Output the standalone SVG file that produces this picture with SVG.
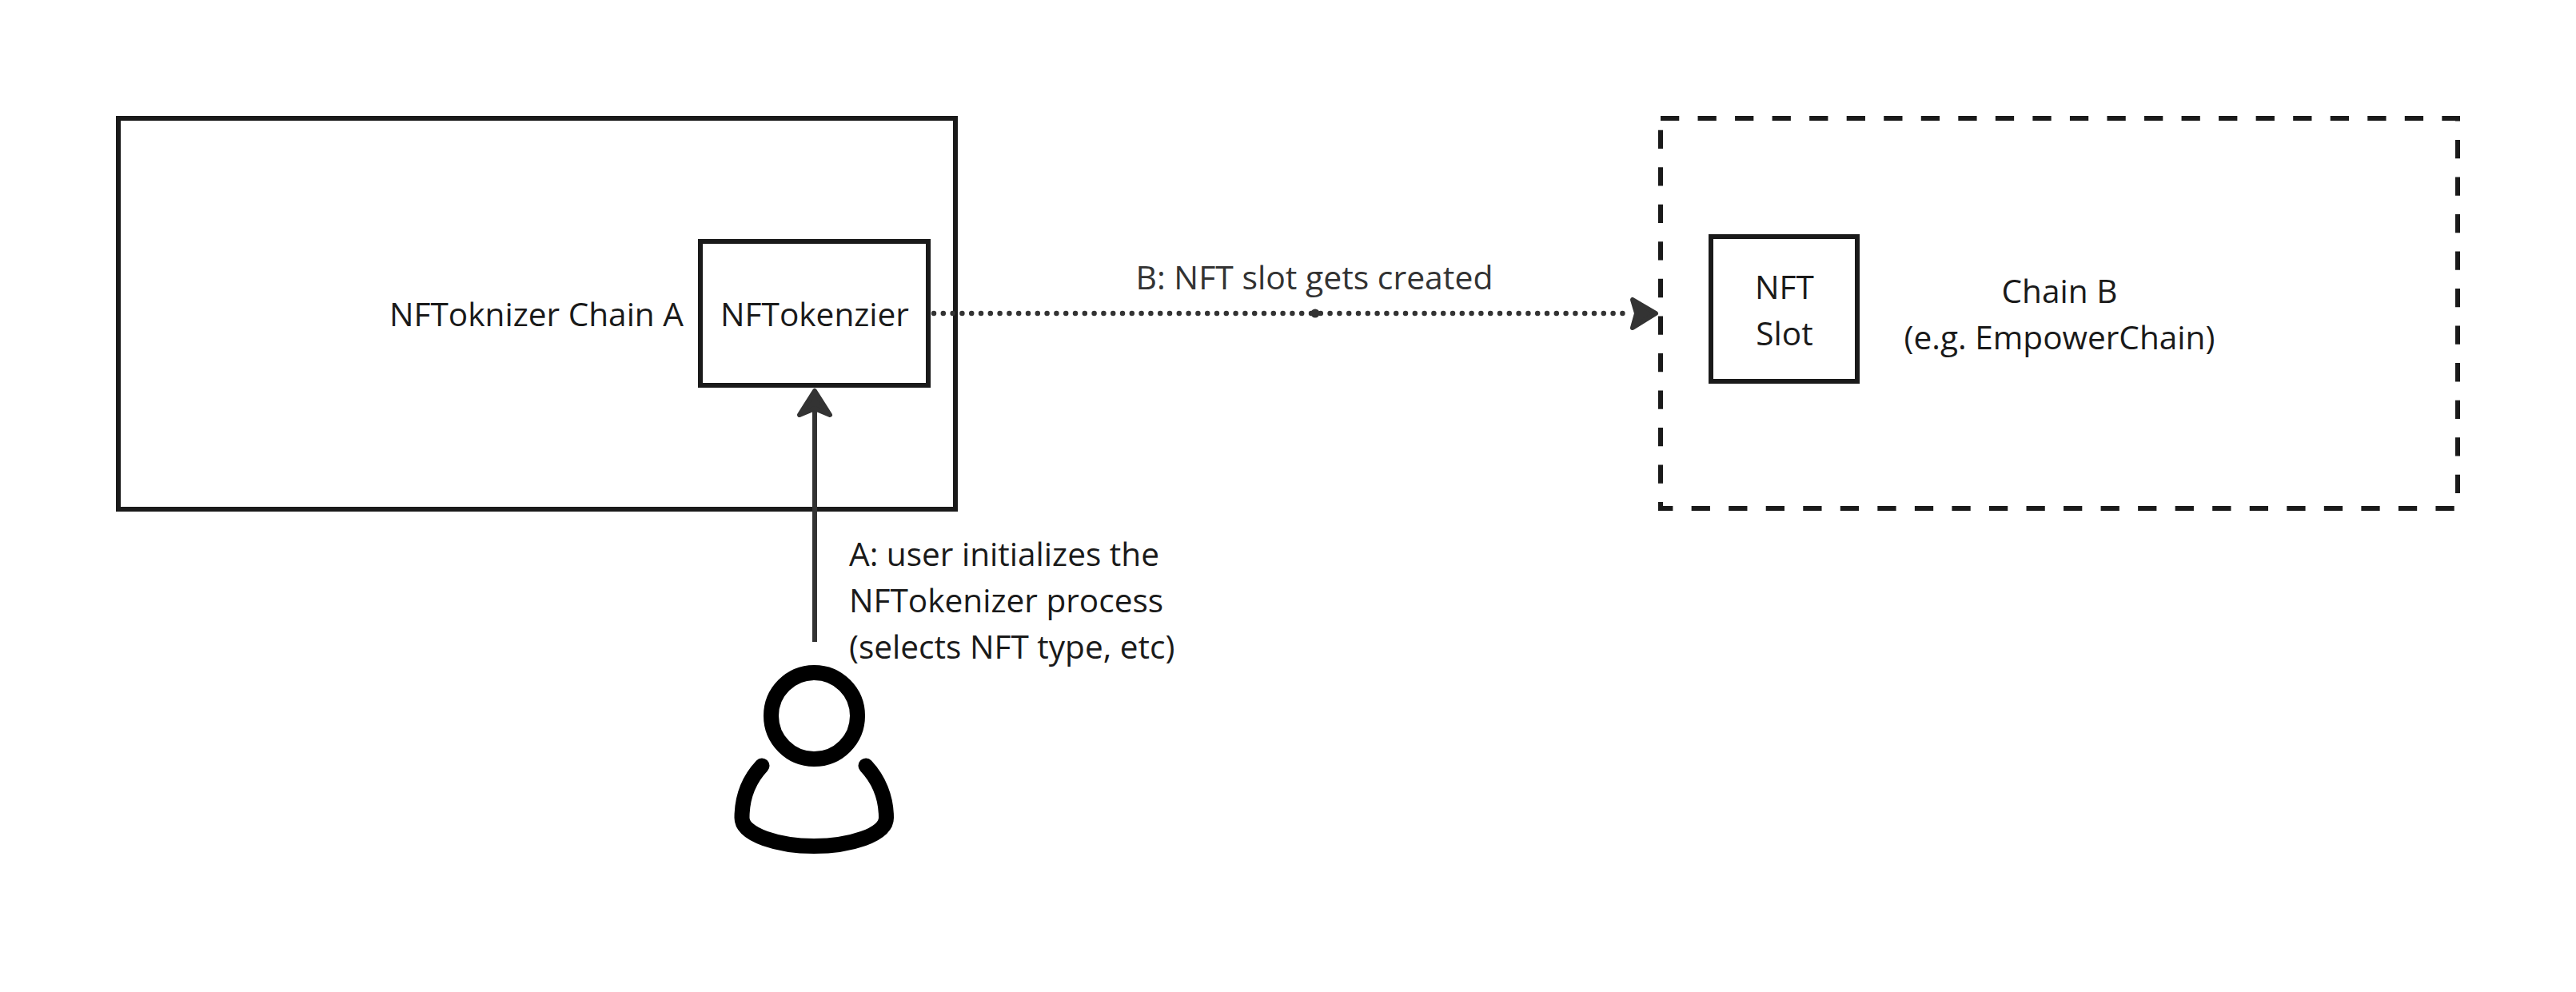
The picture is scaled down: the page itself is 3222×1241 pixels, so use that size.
<svg xmlns="http://www.w3.org/2000/svg" width="3222" height="1241" viewBox="0 0 3222 1241">
<defs><style>
.box{fill:none;stroke:#1a1a1a;stroke-width:6}
.t{font-family:"Open Sans","Noto Sans",sans-serif;font-size:40.6px;fill:#1a1a1a}
.m{text-anchor:middle}
.c{fill:none;stroke:#333;stroke-width:6}
.h{fill:#333;stroke:#333;stroke-width:6;stroke-linejoin:round}
.u{fill:none;stroke:#000;stroke-width:19;stroke-linecap:round}
</style></defs>
<rect width="3222" height="1241" fill="#fff"/>
<g id="chain-a">
<rect class="box" x="148" y="148" width="1047" height="489"/>
<text class="t" x="487" y="408">NFToknizer Chain A</text>
</g>
<g id="nftokenizer">
<rect class="box" x="876" y="302" width="285" height="180"/>
<text class="t m" x="1019" y="408">NFTokenzier</text>
</g>
<g id="chain-b">
<path class="box" style="stroke-dasharray:23.27 23.27" d="M2077 148H3074V636H2077Z"/>
<text class="t m" x="2576" y="379">Chain B</text>
<text class="t m" x="2576" y="437">(e.g. EmpowerChain)</text>
</g>
<g id="nft-slot">
<rect class="box" x="2140" y="296" width="183" height="181"/>
<text class="t m" x="2232" y="374">NFT</text>
<text class="t m" x="2232" y="432">Slot</text>
</g>
<g id="user">
<circle cx="1018.5" cy="895.5" r="54" fill="none" stroke="#000" stroke-width="19"/>
<path class="u" d="M953 958C937 975 928 998 928 1023C928 1045 975 1058.5 1018 1058.5C1062 1058.5 1108.5 1045 1108.5 1023C1108.5 998 1099 975 1083 958"/>
</g>
<g id="connectors">
<path class="c" d="M1019 803V515"/>
<path class="h" d="M1019 489L1038 519L1019 511L1000 519Z"/>
<path class="c" style="stroke-dasharray:0 11.8;stroke-linecap:round;stroke-width:6.5" d="M1168 392H2040"/>
<circle cx="1645" cy="392" r="5.5" fill="#333"/>
<path class="h" d="M2071 392L2042 375L2047 392L2042 410Z"/>
<text class="t m" style="fill:#333;font-size:40.9px" x="1644" y="362">B: NFT slot gets created</text>
<text class="t" x="1062" y="708">A: user initializes the</text>
<text class="t" x="1062" y="766">NFTokenizer process</text>
<text class="t" x="1062" y="824">(selects NFT type, etc)</text>
</g>
</svg>
